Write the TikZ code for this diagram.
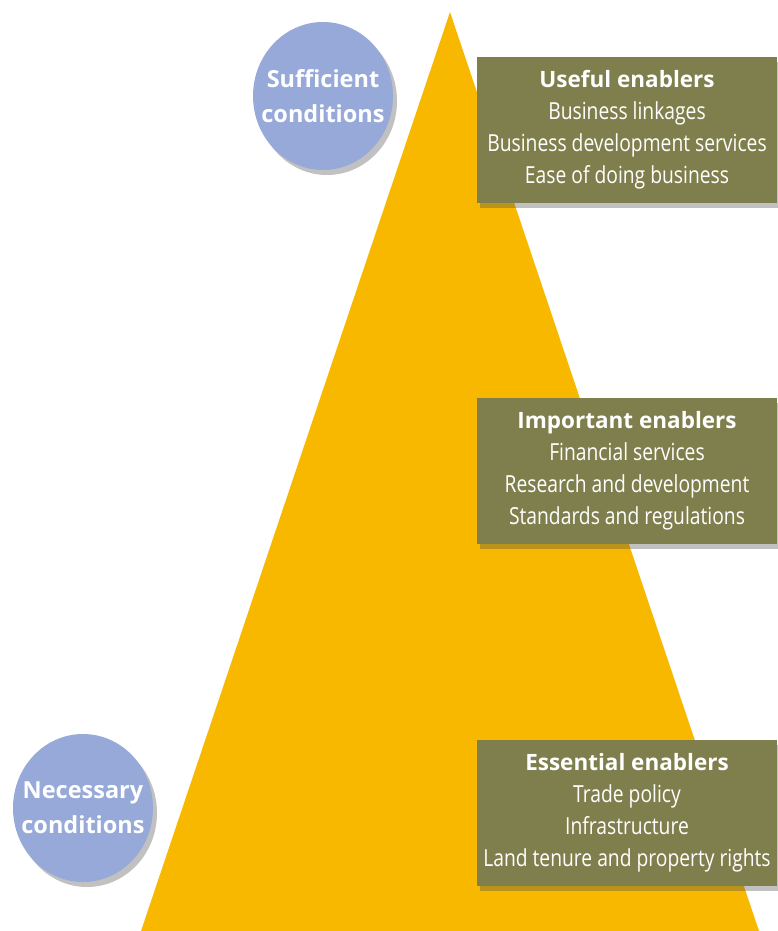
\documentclass[tikz,border=0pt]{standalone}
\usepackage{fontspec}
\setmainfont{Open Sans}
\newfontfamily\condfont{Open Sans}[FakeStretch=0.82]
\usetikzlibrary{shadows,shapes.geometric}
\definecolor{tri}{HTML}{F8B800}
\definecolor{circ}{HTML}{97A9D8}
\definecolor{olive}{HTML}{7F7F4D}
\tikzset{
  cond/.style={ellipse, fill=circ, minimum width=140pt, minimum height=148pt, inner sep=0pt,
    text=white, font=\fontsize{23.5}{35}\selectfont\bfseries, align=center,
    drop shadow={shadow xshift=4pt, shadow yshift=-5pt, opacity=0.35, fill=black!70}},
  enabler/.style={rectangle, fill=olive, minimum width=300pt, minimum height=146pt, inner sep=0pt,
    text=white, font=\condfont\fontsize{23.5}{32}\selectfont, align=center,
    drop shadow={shadow xshift=3pt, shadow yshift=-5pt, opacity=0.35, fill=black!70}}
}
\newcommand{\ttlfont}{\normalfont\fontsize{22.5}{32}\selectfont\bfseries}
\newcommand{\zb}[1]{\makebox[0pt]{#1}}
\begin{document}
\begin{tikzpicture}[x=1pt,y=-1pt]
\useasboundingbox (0,0) rectangle (777,931);
\fill[tri] (450,12) -- (759,931) -- (141,931) -- cycle;
\node[cond] (suff) at (323,96) {\zb{Sufficient}\\\zb{conditions}};
\node[cond] (nec) at (83,808) {\zb{Necessary}\\\zb{conditions}};
\node[enabler] (useful) at (627,130) {{\ttlfont Useful enablers}\\Business linkages\\Business development services\\Ease of doing business};
\node[enabler] (important) at (627,471) {{\ttlfont Important enablers}\\Financial services\\Research and development\\Standards and regulations};
\node[enabler] (essential) at (627,813) {{\ttlfont Essential enablers}\\Trade policy\\Infrastructure\\Land tenure and property rights};
\end{tikzpicture}
\end{document}
